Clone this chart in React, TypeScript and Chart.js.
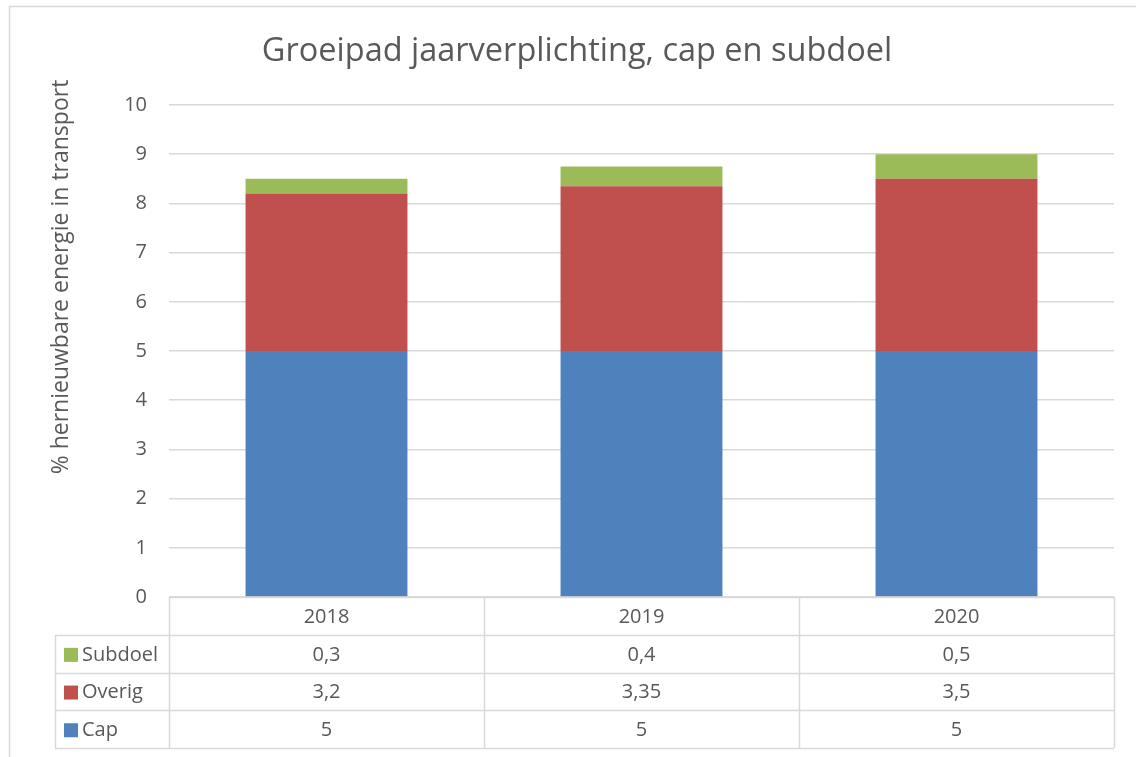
import React, { useEffect, useRef } from "react";
import { Chart, registerables } from "chart.js";

Chart.register(...registerables);

const categories = ["2018", "2019", "2020"];
const capValues = [5, 5, 5];
const overigValues = [3.2, 3.35, 3.5];
const subdoelValues = [0.3, 0.4, 0.5];
const yTicks = [0, 1, 2, 3, 4, 5, 6, 7, 8, 9, 10];
const titleText = "Groeipad jaarverplichting, cap en subdoel";
const yTitleText = "% hernieuwbare energie in transport";

const FONT = "'Open Sans', 'Noto Sans', sans-serif";
const TEXT = "#595959";
const LINE = "#d9d9d9";

const fmt = (v: number) => String(v).replace(".", ",");

const tablePlugin = {
  id: "dataTable",
  beforeDraw(chart: any) {
    const ctx = chart.ctx;
    ctx.save();
    ctx.fillStyle = "#ffffff";
    ctx.fillRect(0, 0, chart.width, chart.height);
    ctx.strokeStyle = LINE;
    ctx.lineWidth = 1.5;
    ctx.beginPath();
    ctx.moveTo(9.5, chart.height + 2);
    ctx.lineTo(9.5, 6.5);
    ctx.lineTo(chart.width + 2, 6.5);
    ctx.stroke();
    ctx.restore();
  },
  afterDraw(chart: any) {
    const ctx = chart.ctx;
    const area = chart.chartArea;
    const xs = chart.scales.x;
    const n = categories.length;
    const colW = (area.right - area.left) / n;
    const top = area.bottom;
    const headerH = 38;
    const rowH = 37.7;
    const labelLeft = 55;
    const rows = [
      { name: "Subdoel", color: "#9BBB59", values: subdoelValues },
      { name: "Overig", color: "#C0504D", values: overigValues },
      { name: "Cap", color: "#4F81BD", values: capValues },
    ];
    const bottom = top + headerH + rowH * rows.length;
    ctx.save();
    ctx.strokeStyle = LINE;
    ctx.lineWidth = 1.5;
    ctx.beginPath();
    ctx.moveTo(area.left, top + 0.5);
    ctx.lineTo(area.right, top + 0.5);
    for (let r = 0; r <= rows.length; r++) {
      const y = Math.round(top + headerH + rowH * r) + 0.5;
      ctx.moveTo(labelLeft, y);
      ctx.lineTo(area.right, y);
    }
    for (let c = 0; c <= n; c++) {
      const x = Math.round(area.left + colW * c) + 0.5;
      ctx.moveTo(x, top);
      ctx.lineTo(x, bottom);
    }
    ctx.moveTo(labelLeft + 0.5, top + headerH);
    ctx.lineTo(labelLeft + 0.5, bottom);
    ctx.stroke();

    ctx.fillStyle = TEXT;
    ctx.font = `20px ${FONT}`;
    ctx.textAlign = "center";
    ctx.textBaseline = "middle";
    categories.forEach((cat, i) => {
      const cx = xs.getPixelForValue(i);
      ctx.fillText(cat, cx, top + headerH / 2 + 1);
    });
    rows.forEach((row, r) => {
      const cy = top + headerH + rowH * r + rowH / 2 + 1;
      ctx.fillStyle = row.color;
      ctx.fillRect(64, cy - 7, 14, 14);
      ctx.fillStyle = TEXT;
      ctx.textAlign = "left";
      ctx.fillText(row.name, 82, cy);
      ctx.textAlign = "center";
      row.values.forEach((v, i) => {
        ctx.fillText(fmt(v), xs.getPixelForValue(i), cy);
      });
    });

    ctx.save();
    ctx.translate(61, 277);
    ctx.rotate(-Math.PI / 2);
    ctx.font = `23px ${FONT}`;
    ctx.fillStyle = TEXT;
    ctx.textAlign = "center";
    ctx.textBaseline = "middle";
    ctx.fillText(yTitleText, 0, 0);
    ctx.restore();
    ctx.restore();
  },
};

export default function App() {
  const ref = useRef<HTMLCanvasElement | null>(null);
  useEffect(() => {
    if (!ref.current) return;
    const chart = new Chart(ref.current, {
      type: "bar",
      data: {
        labels: categories,
        datasets: [
          { label: "Cap", data: capValues, backgroundColor: "#4F81BD" },
          { label: "Overig", data: overigValues, backgroundColor: "#C0504D" },
          { label: "Subdoel", data: subdoelValues, backgroundColor: "#9BBB59" },
        ],
      },
      options: {
        animation: false,
        responsive: false,
        maintainAspectRatio: false,
        layout: { padding: { left: 40, right: 22, top: 0, bottom: 160 } },
        datasets: { bar: { barPercentage: 0.514, categoryPercentage: 1 } },
        plugins: {
          legend: { display: false },
          tooltip: { enabled: false },
          title: {
            display: true,
            text: titleText,
            color: TEXT,
            font: { family: FONT, size: 32.5, weight: "normal" },
            padding: { top: 32, bottom: 34 },
          },
        },
        scales: {
          x: { stacked: true, display: false },
          y: {
            stacked: true,
            min: 0,
            max: 10,
            afterFit: (scale: any) => {
              scale.width = 129;
            },
            afterBuildTicks: (scale: any) => {
              scale.ticks = yTicks.map((v) => ({ value: v }));
            },
            border: { display: false },
            grid: { color: LINE, lineWidth: 1.5, drawTicks: false },
            ticks: {
              color: TEXT,
              padding: 22,
              font: { family: FONT, size: 20 },
            },
          },
        },
      },
      plugins: [tablePlugin],
    });
    return () => chart.destroy();
  }, []);
  return (
    <div style={{ position: "fixed", left: 0, top: 0, width: 1136, height: 757, background: "#fff" }}>
      <canvas ref={ref} width={1136} height={757} style={{ width: 1136, height: 757 }} />
    </div>
  );
}
